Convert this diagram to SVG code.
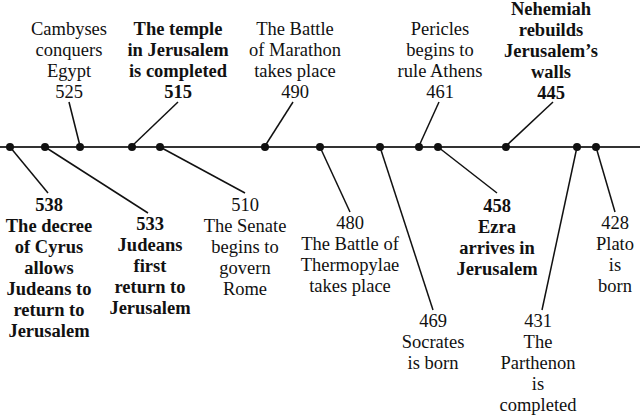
<svg xmlns="http://www.w3.org/2000/svg" width="640" height="416" viewBox="0 0 640 416">
<style>
text{font-family:'Times New Roman','Liberation Serif',Tinos,serif;font-size:18.5px;fill:#111;text-anchor:middle}
.b{font-weight:bold}
.axis{stroke:#333;stroke-width:2}
.c{stroke:#111;stroke-width:1.5;fill:none}
.dot{fill:#111}
</style>
<rect width="640" height="416" fill="#fff"/>
<g id="connectors">
<line class="axis" x1="0" y1="147" x2="640" y2="147"/>
<line class="c" x1="69" y1="102" x2="80" y2="146"/>
<line class="c" x1="178" y1="102" x2="132" y2="146"/>
<line class="c" x1="293" y1="102" x2="265" y2="146"/>
<line class="c" x1="439" y1="102" x2="419" y2="146"/>
<line class="c" x1="553" y1="102" x2="506" y2="146"/>
<line class="c" x1="10" y1="147" x2="48" y2="193"/>
<line class="c" x1="45" y1="147" x2="148" y2="213"/>
<line class="c" x1="160" y1="147" x2="245" y2="193"/>
<line class="c" x1="320" y1="147" x2="350" y2="212"/>
<line class="c" x1="380" y1="147" x2="433" y2="310"/>
<line class="c" x1="438" y1="147" x2="497" y2="193"/>
<line class="c" x1="577" y1="147" x2="542" y2="310"/>
<line class="c" x1="596" y1="147" x2="615" y2="212"/>
</g>
<g id="e538"><circle class="dot" cx="10" cy="147" r="4"/><text class="b" x="49" y="211"><tspan x="49">538</tspan><tspan x="49" dy="21">The decree</tspan><tspan x="49" dy="21">of Cyrus</tspan><tspan x="49" dy="21">allows</tspan><tspan x="49" dy="21">Judeans to</tspan><tspan x="49" dy="21">return to</tspan><tspan x="49" dy="21">Jerusalem</tspan></text></g>
<g id="e533"><circle class="dot" cx="45" cy="147" r="4"/><text class="b" x="150" y="230"><tspan x="150">533</tspan><tspan x="150" dy="21">Judeans</tspan><tspan x="150" dy="21">first</tspan><tspan x="150" dy="21">return to</tspan><tspan x="150" dy="21">Jerusalem</tspan></text></g>
<g id="e525"><circle class="dot" cx="80" cy="147" r="4"/><text x="69" y="35"><tspan x="69">Cambyses</tspan><tspan x="69" dy="21">conquers</tspan><tspan x="69" dy="21">Egypt</tspan><tspan x="69" dy="21">525</tspan></text></g>
<g id="e515"><circle class="dot" cx="132" cy="147" r="4"/><text class="b" x="178" y="35"><tspan x="178">The temple</tspan><tspan x="178" dy="21">in Jerusalem</tspan><tspan x="178" dy="21">is completed</tspan><tspan x="178" dy="21">515</tspan></text></g>
<g id="e510"><circle class="dot" cx="160" cy="147" r="4"/><text x="245" y="211"><tspan x="245">510</tspan><tspan x="245" dy="21">The Senate</tspan><tspan x="245" dy="21">begins to</tspan><tspan x="245" dy="21">govern</tspan><tspan x="245" dy="21">Rome</tspan></text></g>
<g id="e490"><circle class="dot" cx="265" cy="147" r="4"/><text x="295" y="35"><tspan x="295">The Battle</tspan><tspan x="295" dy="21">of Marathon</tspan><tspan x="295" dy="21">takes place</tspan><tspan x="295" dy="21">490</tspan></text></g>
<g id="e480"><circle class="dot" cx="320" cy="147" r="4"/><text x="350" y="229"><tspan x="350">480</tspan><tspan x="350" dy="21">The Battle of</tspan><tspan x="350" dy="21">Thermopylae</tspan><tspan x="350" dy="21">takes place</tspan></text></g>
<g id="e469"><circle class="dot" cx="380" cy="147" r="4"/><text x="433" y="327"><tspan x="433">469</tspan><tspan x="433" dy="21">Socrates</tspan><tspan x="433" dy="21">is born</tspan></text></g>
<g id="e461"><circle class="dot" cx="419" cy="147" r="4"/><text x="440" y="35"><tspan x="440">Pericles</tspan><tspan x="440" dy="21">begins to</tspan><tspan x="440" dy="21">rule Athens</tspan><tspan x="440" dy="21">461</tspan></text></g>
<g id="e458"><circle class="dot" cx="438" cy="147" r="4"/><text class="b" x="497" y="212"><tspan x="497">458</tspan><tspan x="497" dy="21">Ezra</tspan><tspan x="497" dy="21">arrives in</tspan><tspan x="497" dy="21">Jerusalem</tspan></text></g>
<g id="e445"><circle class="dot" cx="506" cy="147" r="4"/><text class="b" x="551" y="15"><tspan x="551">Nehemiah</tspan><tspan x="551" dy="21">rebuilds</tspan><tspan x="551" dy="21">Jerusalem&#8217;s</tspan><tspan x="551" dy="21">walls</tspan><tspan x="551" dy="21">445</tspan></text></g>
<g id="e431"><circle class="dot" cx="577" cy="147" r="4"/><text x="538" y="327"><tspan x="538">431</tspan><tspan x="538" dy="21">The</tspan><tspan x="538" dy="21">Parthenon</tspan><tspan x="538" dy="21">is</tspan><tspan x="538" dy="21">completed</tspan></text></g>
<g id="e428"><circle class="dot" cx="596" cy="147" r="4"/><text x="615" y="229"><tspan x="615">428</tspan><tspan x="615" dy="21">Plato</tspan><tspan x="615" dy="21">is</tspan><tspan x="615" dy="21">born</tspan></text></g>
</svg>
